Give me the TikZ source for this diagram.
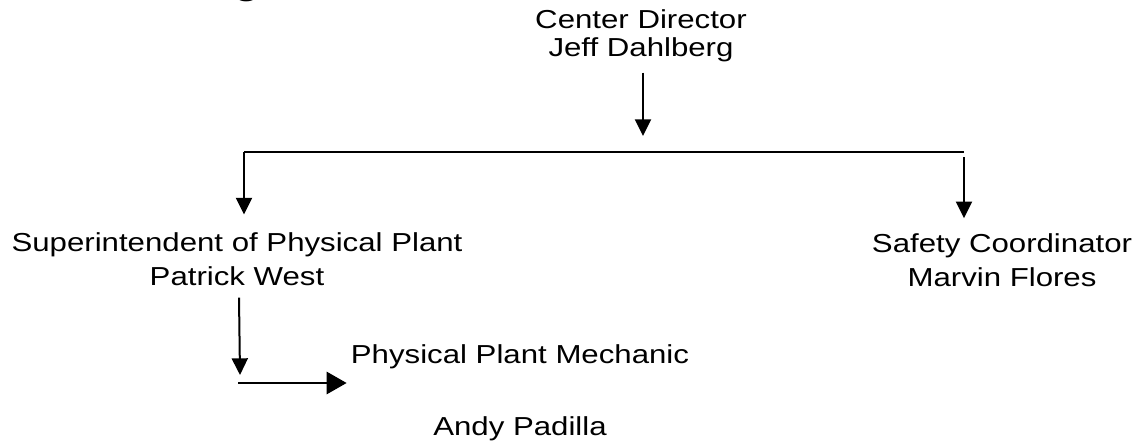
\documentclass[tikz,border=0pt]{standalone}
\usepackage{fontspec}
\setmainfont{Liberation Sans}[FakeStretch=1.2]
\usetikzlibrary{arrows.meta}
\tikzset{
  person/.style={align=center, inner sep=0pt, anchor=base,
    font=\fontsize{19.5pt}{25.5pt}\selectfont},
  link/.style={line width=1.5pt},
  arr/.style={line width=1.5pt, -{Triangle[length=12.5pt,width=12pt]}},
  bigarr/.style={line width=2.2pt, -{Triangle[length=15pt,width=16.5pt]}}
}
\begin{document}
\begin{tikzpicture}[x=0.75pt,y=-0.75pt]
    \useasboundingbox (0,0) rectangle (1142,442);% page size of the chart
    \node [inner sep=0pt, anchor=base, font=\fontsize{26pt}{30pt}\bfseries\selectfont] (heading) at (247,-5) {g};
    \node [person, font=\fontsize{19.5pt}{21pt}\selectfont] (dir) at (641,57) {Center Director\\Jeff Dahlberg};
    \node [person] (sup) at (237,285) {Superintendent of Physical Plant\\Patrick West};
    \node [person] (saf) at (1002,286) {Safety Coordinator\\Marvin Flores};
    \node [person] (mech) at (520,435) {Physical Plant Mechanic\\[28pt]Andy Padilla};
    \coordinate (barL) at (244,152);
    \coordinate (barR) at (964,152);
    \coordinate (turn) at (238,383);
    \draw [link] (barL) -- (barR);% horizontal bar
    \draw [arr] ([xshift=1.5pt,yshift=-7.5pt]dir.south) -- ([xshift=1.5pt,yshift=12pt]dir.south |- barL);
    \draw [arr] (barL) -- ([yshift=13pt]barL |- sup.north);
    \draw [arr] ([yshift=-4pt]barR) -- ([yshift=11pt]barR |- saf.north);
    \draw [arr] ([xshift=1.5pt,yshift=-9pt]sup.south) -- ([xshift=1.5pt,yshift=6pt]turn);
    \draw [bigarr] (turn) -- ([xshift=-3pt]turn -| mech.west);
\end{tikzpicture}
\end{document}
